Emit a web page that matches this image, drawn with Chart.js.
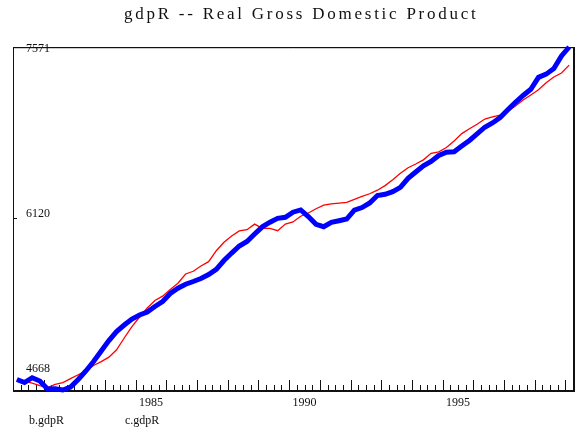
<!DOCTYPE html>
<html>
<head>
<meta charset="utf-8">
<script src="https://cdn.jsdelivr.net/npm/chart.js@4/dist/chart.umd.min.js"></script>
<style>
  html, body { margin: 0; padding: 0; background: #fff; }
</style>
</head>
<body>
<canvas id="gdp-chart" width="576" height="436"></canvas>
<script>
const chartTitle = "gdpR -- Real Gross Domestic Product";
const startYear = 1981;
const endYear = 1999.25;
const yearLabels = [1985, 1990, 1995];
const yTicks = [4668, 6120, 7571];
const seriesNames = ["b.gdpR", "c.gdpR"];

// quarterly, 1981Q1 .. 1999Q1
const bGdpR = [
  4757, 4731, 4772, 4744, 4676, 4679, 4668, 4693, 4757, 4829,
  4909, 4998, 5086, 5163, 5218, 5269, 5303, 5328, 5375, 5417,
  5485, 5529, 5563, 5586, 5612, 5645, 5689, 5764, 5827, 5887,
  5925, 5988, 6049, 6088, 6121, 6130, 6173, 6192, 6136, 6070,
  6050, 6087, 6101, 6115, 6191, 6212, 6251, 6314, 6324, 6347,
  6383, 6460, 6513, 6566, 6603, 6653, 6681, 6685, 6733, 6780,
  6835, 6892, 6928, 6974, 7039, 7103, 7161, 7213, 7314, 7341,
  7388, 7495, 7571
];
const cGdpR = [
  4753, 4742, 4727, 4706, 4689, 4715, 4730, 4764, 4797, 4829,
  4875, 4908, 4946, 5008, 5108, 5205, 5286, 5362, 5425, 5462,
  5519, 5572, 5650, 5673, 5717, 5754, 5847, 5918, 5971, 6015,
  6025, 6072, 6036, 6036, 6016, 6072, 6090, 6139, 6166, 6202,
  6232, 6244, 6250, 6256, 6282, 6307, 6329, 6359, 6398, 6447,
  6502, 6549, 6581, 6616, 6671, 6684, 6720, 6776, 6838, 6879,
  6917, 6961, 6980, 6995, 7025, 7072, 7122, 7165, 7209, 7268,
  7317, 7351, 7418
];

// mid-quarter dates
const quarters = bGdpR.map((v, i) => startYear + (i + 0.5) / 4);
const toPoints = (arr) => arr.map((v, i) => ({ x: quarters[i], y: v }));

const SERIF = '"Liberation Serif", "Times New Roman", serif';
const INK = "#111";

// frame + inside tick marks, drawn under the lines
const framePlugin = {
  id: "frame",
  beforeDatasetsDraw(chart) {
    const { ctx, chartArea: a, scales } = chart;
    ctx.save();
    ctx.strokeStyle = INK;
    ctx.lineWidth = 1;
    ctx.beginPath();
    ctx.moveTo(a.left + 0.5, a.top);
    ctx.lineTo(a.left + 0.5, a.bottom);
    ctx.moveTo(a.left, a.top + 0.5);
    ctx.lineTo(a.right + 2, a.top + 0.5);
    ctx.stroke();
    ctx.strokeStyle = "#ccc";
    ctx.beginPath();
    ctx.moveTo(a.left + 1, a.top + 1.5);
    ctx.lineTo(a.right, a.top + 1.5);
    ctx.stroke();
    ctx.strokeStyle = INK;
    ctx.lineWidth = 2;
    ctx.beginPath();
    ctx.moveTo(a.left, a.bottom + 1);
    ctx.lineTo(a.right + 2, a.bottom + 1);
    ctx.moveTo(a.right + 1, a.top);
    ctx.lineTo(a.right + 1, a.bottom + 2);
    ctx.stroke();

    ctx.lineWidth = 1;
    ctx.beginPath();
    for (let q = 1; q < (endYear - startYear) * 4; q++) {
      const t = startYear + q / 4;
      const x = Math.round(scales.x.getPixelForValue(t)) + 0.5;
      const len = q % 4 === 0 ? 10 : 5;
      ctx.moveTo(x, a.bottom);
      ctx.lineTo(x, a.bottom - len);
    }
    yTicks.forEach((v) => {
      const y = Math.round(scales.y.getPixelForValue(v)) + 0.5;
      ctx.moveTo(a.left, y);
      ctx.lineTo(a.left + 4, y);
    });
    ctx.stroke();
    ctx.restore();
  },
  afterDraw(chart) {
    const { ctx, chartArea: a, scales } = chart;
    ctx.save();
    ctx.fillStyle = INK;

    ctx.font = "17px " + SERIF;
    ctx.letterSpacing = "2.75px";
    ctx.textAlign = "left";
    ctx.textBaseline = "alphabetic";
    ctx.fillText(chartTitle, 124, 19);
    ctx.letterSpacing = "0px";

    ctx.font = "12px " + SERIF;
    yTicks.forEach((v) => {
      const y = scales.y.getPixelForValue(v);
      const base = Math.min(Math.max(y - 1, a.top + 5), a.bottom - 18);
      ctx.fillText(String(v), a.left + 13, base);
    });

    ctx.textAlign = "center";
    yearLabels.forEach((yr) => {
      ctx.fillText(String(yr), scales.x.getPixelForValue(yr + 0.5), a.bottom + 16);
    });

    ctx.textAlign = "left";
    chart.data.datasets.forEach((ds, i) => {
      ctx.fillText(ds.label, 29 + i * 96, 424);
    });
    ctx.restore();
  }
};

new Chart(document.getElementById("gdp-chart"), {
  type: "line",
  data: {
    datasets: [
      {
        label: seriesNames[0],
        data: toPoints(bGdpR),
        borderColor: "#0000ff",
        borderWidth: 5,
        pointRadius: 0,
        tension: 0,
        clip: false
      },
      {
        label: seriesNames[1],
        data: toPoints(cGdpR),
        borderColor: "#ff0000",
        borderWidth: 1.3,
        pointRadius: 0,
        tension: 0,
        clip: false
      }
    ]
  },
  options: {
    responsive: false,
    animation: false,
    devicePixelRatio: 1,
    layout: { padding: { left: 13, right: 3, top: 47, bottom: 46 } },
    scales: {
      x: { type: "linear", min: startYear, max: endYear, display: false },
      y: { min: yTicks[0], max: yTicks[yTicks.length - 1], display: false }
    },
    plugins: {
      legend: { display: false },
      title: { display: false },
      tooltip: { enabled: false }
    }
  },
  plugins: [framePlugin]
});
</script>
</body>
</html>
